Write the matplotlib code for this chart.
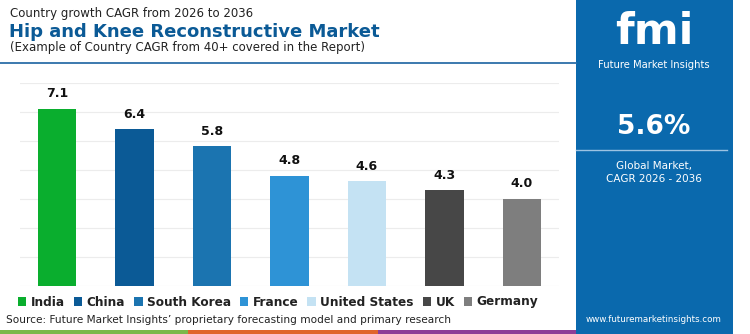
import matplotlib.pyplot as plt
from matplotlib.patches import Rectangle
from matplotlib.lines import Line2D

countries = ['India', 'China', 'South Korea', 'France', 'United States', 'UK', 'Germany']
cagr = [7.1, 6.4, 5.8, 4.8, 4.6, 4.3, 4.0]
colors = ['#0AAE2E', '#0B5A96', '#1B74B0', '#2E93D6', '#C4E2F3', '#474747', '#7E7E7E']
global_cagr = '5.6%'

W, H = 750, 334
fig = plt.figure(figsize=(W / 100, H / 100), dpi=100)
fig.patch.set_facecolor('white')
FONT = 'DejaVu Sans'


def px(x, y):
    # pixel position (top-left origin) -> figure fraction
    return x / W, 1 - y / H


def box(x0, y0, x1, y1, color, z=0):
    fig.patches.append(Rectangle((x0 / W, 1 - y1 / H), (x1 - x0) / W, (y1 - y0) / H,
                                 transform=fig.transFigure, color=color, zorder=z, lw=0))


# right side panel
box(576, 0, 733, 334, '#0A69AD')
# bottom colour strip
box(0, 330, 188, 334, '#7BB84A')
box(188, 330, 378, 334, '#E0652B')
box(378, 330, 576, 334, '#8E3E97')
# rule under the header
fig.add_artist(Line2D([0, 576 / W], [1 - 63 / H] * 2, transform=fig.transFigure,
                      color='#2C6EA8', lw=1.3))

# header
fig.text(*px(10, 14), 'Country growth CAGR from 2026 to 2036', fontsize=8.5,
         family=FONT, color='#222222', va='center')
fig.text(*px(9, 32), 'Hip and Knee Reconstructive Market', fontsize=13,
         family=FONT, color='#0B5A96', weight='bold', va='center')
fig.text(*px(10, 48), '(Example of Country CAGR from 40+ covered in the Report)', fontsize=8.5,
         family=FONT, color='#222222', va='center')

# bar chart
x0, x1, ytop, ybot = 20, 559, 82.5, 286
ax = fig.add_axes([x0 / W, 1 - ybot / H, (x1 - x0) / W, (ybot - ytop) / H])
idx = list(range(len(countries)))
bars = ax.bar(idx, cagr, width=0.5, color=colors, label=countries, zorder=2)
for i, v in enumerate(cagr):
    ax.annotate(f'{v:.1f}', (i, v), xytext=(0, 6), textcoords='offset points',
                ha='center', va='bottom', fontsize=9, weight='bold', family=FONT,
                color='#111111')
ax.set_xlim(-0.477, 6.478)
ax.set_ylim(1, 8)
ax.set_yticks(range(1, 9))
ax.grid(axis='y', color='#ECECEC', lw=0.8, zorder=0)
ax.tick_params(left=False, bottom=False, labelleft=False, labelbottom=False)
for s in ax.spines.values():
    s.set_visible(False)
ax.set_facecolor('none')

leg = fig.legend(bars, countries, loc='center', bbox_to_anchor=px(278, 302), ncol=7,
                 frameon=False, handlelength=0.7, handleheight=0.7, handletextpad=0.35,
                 columnspacing=0.75, prop={'family': FONT, 'weight': 'bold', 'size': 8.7})
for t in leg.get_texts():
    t.set_color('#222222')

fig.text(*px(6, 320), 'Source: Future Market Insights\u2019 proprietary forecasting model and primary research',
         fontsize=7.55, family=FONT, color='#222222', va='center')

# side panel text
fig.text(*px(654, 32), 'fmi', fontsize=31, weight='bold', family=FONT, color='white',
         ha='center', va='center')
fig.text(*px(654, 65), 'Future Market Insights', fontsize=7.2, family=FONT, color='white',
         ha='center', va='center')
fig.text(*px(654, 127), global_cagr, fontsize=19, weight='bold', family=FONT, color='white',
         ha='center', va='center')
fig.add_artist(Line2D([576 / W, 727 / W], [1 - 150 / H] * 2, transform=fig.transFigure,
                      color='#9CC3E3', lw=1))
fig.text(*px(654, 166), 'Global Market,', fontsize=7.5, family=FONT, color='white',
         ha='center', va='center')
fig.text(*px(654, 179), 'CAGR 2026 - 2036', fontsize=7.5, family=FONT, color='white',
         ha='center', va='center')
fig.text(*px(654, 319), 'www.futuremarketinsights.com', fontsize=6.3, family=FONT,
         color='white', ha='center', va='center')

fig.savefig('out.png', dpi=100)
